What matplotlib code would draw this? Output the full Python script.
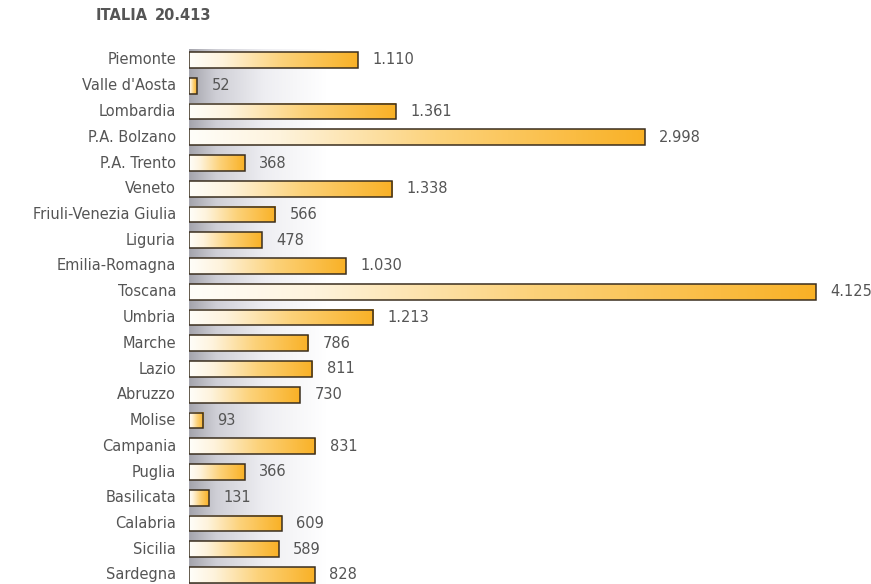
import numpy as np
import matplotlib
matplotlib.use("Agg")
import matplotlib.pyplot as plt
from matplotlib.colors import LinearSegmentedColormap
from matplotlib.patches import Rectangle

regions = ["Piemonte", "Valle d'Aosta", "Lombardia", "P.A. Bolzano", "P.A. Trento",
           "Veneto", "Friuli-Venezia Giulia", "Liguria", "Emilia-Romagna", "Toscana",
           "Umbria", "Marche", "Lazio", "Abruzzo", "Molise", "Campania", "Puglia",
           "Basilicata", "Calabria", "Sicilia", "Sardegna"]
values = [1110, 52, 1361, 2998, 368, 1338, 566, 478, 1030, 4125,
          1213, 786, 811, 730, 93, 831, 366, 131, 609, 589, 828]
total_label = "20.413"

FONT = ["DejaVu Sans Condensed", "DejaVu Sans"]
TXT = "#555555"

def fmt(v):
    return f"{v:,}".replace(",", ".")

fig = plt.figure(figsize=(8.71, 5.84), dpi=100)
W, H = 871, 584
x0 = 189
scale = (816 - 189) / 4125.0
ax = fig.add_axes([x0 / W, 0, (W - x0) / W, 1])
ax.set_xlim(0, (W - x0) / scale)
ax.set_ylim((H - 60) / 25.75, -60 / 25.75)
ax.axis("off")

# grey shadow behind bar bases
shade = LinearSegmentedColormap.from_list(
    "sh", [(0, "#a4a4ac"), (0.2, "#cfcfd6"), (0.55, "#eeeef2"), (1, "#ffffff")])
grad = np.linspace(0, 1, 256).reshape(1, -1)
ax.imshow(grad, cmap=shade, aspect="auto", extent=[0, 900, 20.4, -0.4],
          zorder=0, interpolation="bicubic")

bar_cmap = LinearSegmentedColormap.from_list(
    "bar", [(0, "#fffefa"), (0.2, "#fef3dc"), (0.55, "#fcd27a"), (1, "#f9b126")])
h = 0.62
for i, v in enumerate(values):
    ax.imshow(grad, cmap=bar_cmap, aspect="auto",
              extent=[0, v, i + h / 2, i - h / 2], zorder=2,
              interpolation="bicubic")
    ax.add_patch(Rectangle((0, i - h / 2), v, h, fill=False, ec="#3a2e1e",
                           lw=1.1, zorder=3))
    ax.text(v + 95, i, fmt(v), ha="left", va="center", fontsize=10.5,
            color=TXT, family=FONT)
    fig.text(176 / W, 1 - (60 + 25.75 * i) / H, regions[i], ha="right",
             va="center", fontsize=10.5, color=TXT, family=FONT)

fig.text(148 / W, 1 - 16 / H, "ITALIA", ha="right", va="center", fontsize=10.5,
         color=TXT, family=FONT, weight="bold")
fig.text(155 / W, 1 - 16 / H, total_label, ha="left", va="center", fontsize=10.5,
         color=TXT, family=FONT, weight="bold")

fig.savefig("out.png", dpi=100)
